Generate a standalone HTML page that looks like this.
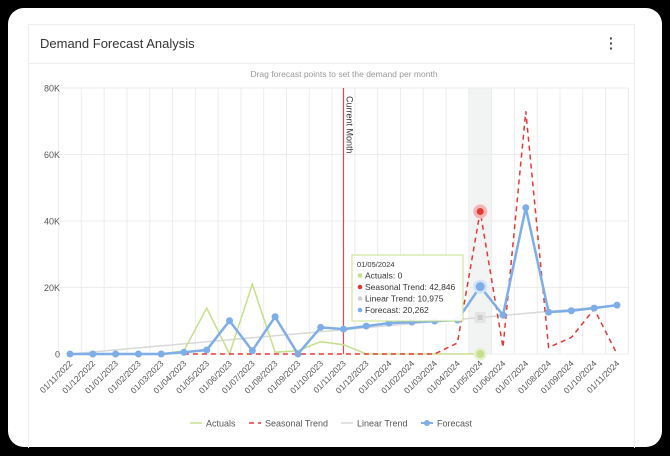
<!DOCTYPE html>
<html><head><meta charset="utf-8"><style>
body{margin:0;width:670px;height:456px;background:#000;overflow:hidden;font-family:"Liberation Sans",sans-serif}
#card{position:absolute;left:8px;top:8px;width:654px;height:439px;background:#fff;border-radius:16px}
#inner{position:absolute;left:28px;top:24px;width:605px;height:423px;border:1px solid #eee;border-bottom:none}
#title{position:absolute;left:40px;top:36px;font-size:13px;color:#333}
#menu{position:absolute;left:609px;top:36px;font-size:14px;color:#444;font-weight:bold;line-height:5px;width:8px}
#hr{position:absolute;left:29px;top:63px;width:605px;height:1px;background:#eee}
svg{position:absolute;left:0;top:0}
</style></head><body>
<div id="card"></div>
<div id="inner"></div>
<div id="title">Demand Forecast Analysis</div>
<div id="menu">·<br>·<br>·</div>
<div id="hr"></div>
<svg id="chart" width="670" height="456"></svg>
<script>
const categories=["01/11/2022","01/12/2022","01/01/2023","01/02/2023","01/03/2023","01/04/2023","01/05/2023","01/06/2023","01/07/2023","01/08/2023","01/09/2023","01/10/2023","01/11/2023","01/12/2023","01/01/2024","01/02/2024","01/03/2024","01/04/2024","01/05/2024","01/06/2024","01/07/2024","01/08/2024","01/09/2024","01/10/2024","01/11/2024"];
const actuals=[0,0,0,0,0,1000,13800,0,21000,500,1000,3700,2800,0,0,0,0,0,0];
const seasonal=[null,null,null,null,null,0,0,0,0,0,0,0,0,0,0,0,0,3300,42846,2000,73000,2000,5000,13500,0];
const linear=[0,610,1220,1830,2440,3050,3660,4270,4880,5490,6100,6710,7320,7930,8540,9150,9760,10370,10975,11590,12200,12810,13420,14030,14630];
const forecast=[0,0,0,0,0,500,1200,10000,1000,11200,0,8000,7500,8400,9300,9600,9900,10200,20262,11700,44000,12600,13000,13800,14700];
const yTicks=[0,20000,40000,60000,80000];
const yTickLabels=["0","20K","40K","60K","80K"];
const currentIndex=12, hoverIndex=18;
const NS="http://www.w3.org/2000/svg";
const svg=document.getElementById('chart');
const x0=70,step=22.79,yBase=354,yTop=88,yMax=80000;
const X=i=>x0+i*step, Y=v=>yBase-(v/yMax)*(yBase-yTop);
function mk(t,a,p){const e=document.createElementNS(NS,t);for(const k in a)e.setAttribute(k,a[k]);(p||svg).appendChild(e);return e;}
let hb=mk('rect',{x:X(hoverIndex)-step/2,y:yTop,width:step,height:yBase-yTop,fill:'#f2f3f3'});


for(let i=0;i<=categories.length;i++){let g=mk('line',{x1:X(i)-step/2,x2:X(i)-step/2,y1:yTop,y2:yBase,stroke:'#ececec'});

}
yTicks.forEach((v,i)=>{let g=mk('line',{x1:X(0)-step/2,x2:X(categories.length)-step/2,y1:Y(v),y2:Y(v),stroke:'#ececec'});


let t=mk('text',{x:60,y:Y(v)+3.5,'text-anchor':'end','font-size':'9',fill:'#555'});t.textContent=yTickLabels[i];

});
categories.forEach((c,i)=>{let t=mk('text',{x:X(i)+3,y:yBase+10,'text-anchor':'end','font-size':'8.5',fill:'#555',transform:`rotate(-45 ${X(i)+3} ${yBase+10})`});t.textContent=c;

});
let sub=mk('text',{x:344,y:77,'text-anchor':'middle','font-size':'8.5',fill:'#999'});sub.textContent='Drag forecast points to set the demand per month';


let cm=mk('line',{x1:X(currentIndex),x2:X(currentIndex),y1:yTop,y2:yBase,stroke:'#e5484d','stroke-width':1.2});


let cmt=mk('text',{x:X(currentIndex)+3,y:yTop+8,'font-size':'9',fill:'#333',transform:`rotate(90 ${X(currentIndex)+3} ${yTop+8})`});cmt.textContent='Current Month';


function path(arr){let d='';arr.forEach((v,i)=>{if(v==null)return;d+=(d?'L':'M')+X(i).toFixed(1)+' '+Y(v).toFixed(1);});return d;}
let pl=mk('path',{d:path(linear),fill:'none',stroke:'#d8d8d8','stroke-width':1.5});


let pa=mk('path',{d:path(actuals),fill:'none',stroke:'#c5e08a','stroke-width':1.5});


let ps=mk('path',{d:path(seasonal),fill:'none',stroke:'#e53935','stroke-width':1.5,'stroke-dasharray':'5,4'});


let pf=mk('path',{d:path(forecast),fill:'none',stroke:'#7eaee8','stroke-width':2.5});


forecast.forEach((v,i)=>{let c=mk('circle',{cx:X(i),cy:Y(v),r:3.5,fill:'#7eaee8'});

});
let h1=mk('circle',{cx:X(hoverIndex),cy:Y(seasonal[hoverIndex]),r:7,fill:'#f5b5b5'});
let h2=mk('circle',{cx:X(hoverIndex),cy:Y(seasonal[hoverIndex]),r:3.5,fill:'#e53935'});
let h3=mk('rect',{x:X(hoverIndex)-4,y:Y(linear[hoverIndex])-4,width:8,height:8,fill:'#ccc',stroke:'#e4e4e4','stroke-width':3});
let h4=mk('circle',{cx:X(hoverIndex),cy:Y(forecast[hoverIndex]),r:7,fill:'#d3e3f7'});
let h5=mk('circle',{cx:X(hoverIndex),cy:Y(forecast[hoverIndex]),r:4.5,fill:'#7eaee8'});
let h6=mk('circle',{cx:X(hoverIndex),cy:Y(0),r:6.5,fill:'#e6f0d2'});
let h7=mk('circle',{cx:X(hoverIndex),cy:Y(0),r:4,fill:'#c5e08a'});
const tt=mk('g',{});
mk('rect',{x:352,y:255,width:111,height:66,fill:'rgba(255,255,255,0.93)',stroke:'#c5e08a','stroke-width':1},tt);
let tlines=[[categories[hoverIndex],null],['Actuals: '+actuals[hoverIndex],'#c5e08a'],['Seasonal Trend: '+seasonal[hoverIndex].toLocaleString('en-US'),'#e53935'],['Linear Trend: '+linear[hoverIndex].toLocaleString('en-US'),'#d0d0d0'],['Forecast: '+forecast[hoverIndex].toLocaleString('en-US'),'#7eaee8']];
tlines.forEach((l,i)=>{const yy=267+i*11.5;if(l[1])mk('circle',{cx:360,cy:yy-3,r:2.3,fill:l[1]},tt);
let t=mk('text',{x:l[1]?365:357,y:yy,'font-size':i?'8.5':'7.5',fill:'#333'},tt);t.textContent=l[0];});
const leg=[['Actuals','#c5e08a',null,190],['Seasonal Trend','#e53935','5,4',249],['Linear Trend','#d8d8d8',null,341],['Forecast','#7eaee8',null,421]];
leg.forEach(l=>{const g=mk('g',{});
let x=l[3];
mk('line',{x1:x,x2:x+12,y1:423,y2:423,stroke:l[1],'stroke-width':l[0]==='Forecast'?2:1.5,'stroke-dasharray':l[2]||'none'},g);
if(l[0]==='Forecast')mk('circle',{cx:x+6,cy:423,r:3,fill:l[1]},g);
let t=mk('text',{x:x+16,y:426.5,'font-size':'9',fill:'#555'},g);t.textContent=l[0];});
</script>
</body></html>
